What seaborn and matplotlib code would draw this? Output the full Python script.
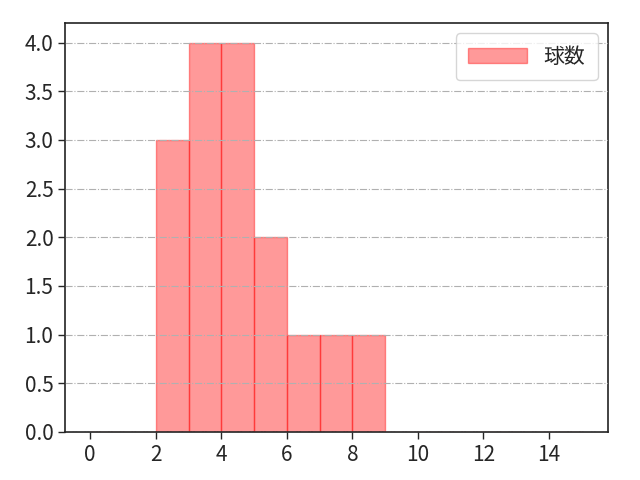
import numpy as np
import pandas as pd
import seaborn as sns
import matplotlib.pyplot as plt

# pitch counts: 2-3:3, 3-4:4, 4-5:4, 5-6:2, 6-7:1, 7-8:1, 8-9:1
pitches = [2, 2, 2, 3, 3, 3, 3, 4, 4, 4, 4, 5, 5, 6, 7, 8]
bin_edges = list(range(0, 16))
label = '球数'

sns.set_style('white')
plt.rcParams['font.family'] = ['Noto Sans CJK JP', 'DejaVu Sans']

df = pd.DataFrame({label: pitches})

fig, ax = plt.subplots(figsize=(6.4, 4.8), dpi=100)
sns.histplot(data=df, x=label, bins=bin_edges, facecolor=(1, 0, 0, 0.4),
             edgecolor=(1, 0, 0, 0.4), linewidth=1.0, label=label, ax=ax)

ax.set_xticks(range(0, 16, 2))
ax.set_yticks(np.arange(0, 4.01, 0.5))
ax.set_yticklabels([f'{v:.1f}' for v in np.arange(0, 4.01, 0.5)])
ax.tick_params(labelsize=15, length=5, width=1, bottom=True, left=True)
ax.set_xlabel('')
ax.set_ylabel('')
ax.set_xlim(-0.76, 15.8)
ax.grid(axis='y', linestyle='-.', color='#b0b0b0', linewidth=0.8)
ax.set_axisbelow(False)
for s in ax.spines.values():
    s.set_visible(True)
    s.set_color('#222222')
    s.set_linewidth(1.2)

ax.legend(loc='upper right', fontsize=15, handlelength=2.8, borderpad=0.6)
fig.subplots_adjust(left=0.102, right=0.95, top=0.952, bottom=0.1)
plt.savefig('out.png')
